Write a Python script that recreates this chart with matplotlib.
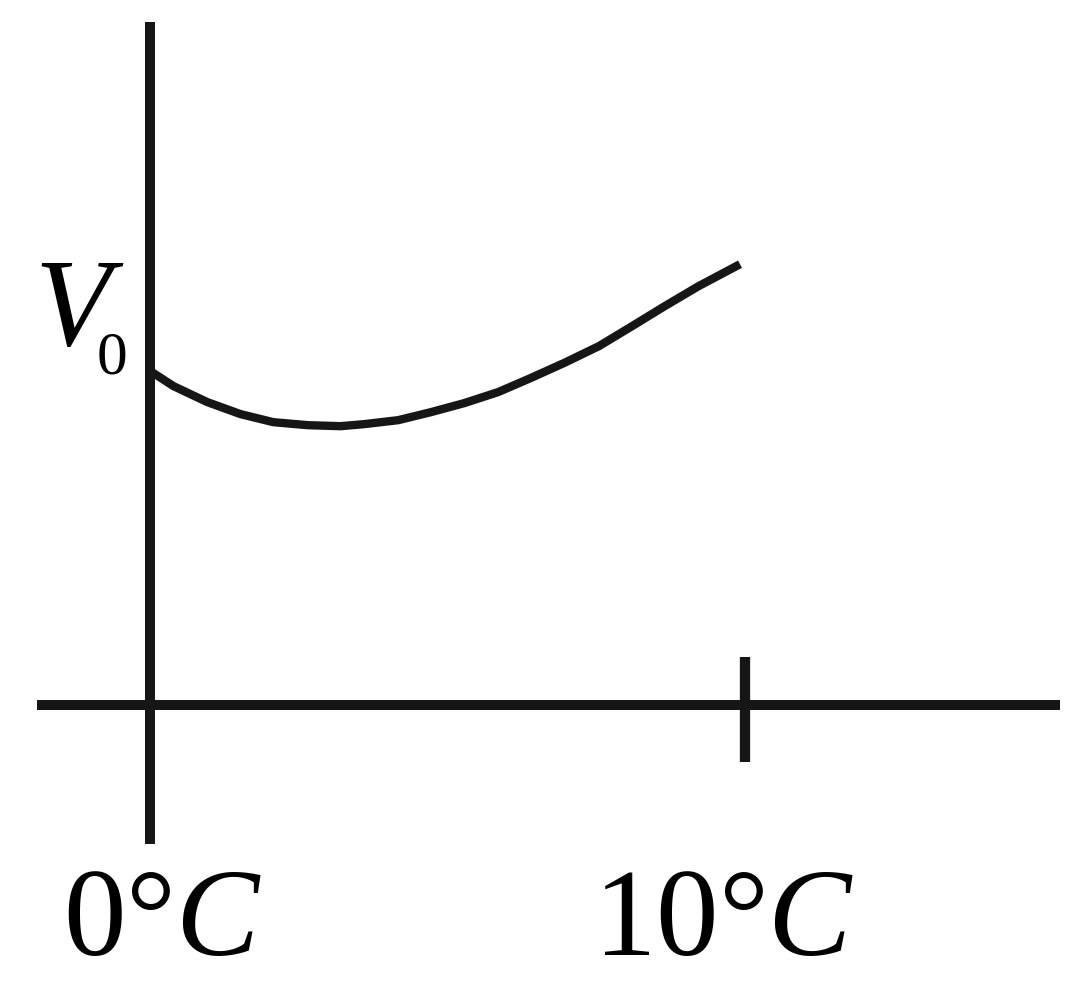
import matplotlib
matplotlib.use("Agg")
import matplotlib.pyplot as plt

plt.rcParams["mathtext.fontset"] = "custom"
plt.rcParams["mathtext.rm"] = "Liberation Serif"
plt.rcParams["mathtext.it"] = "Liberation Serif:italic"
plt.rcParams["mathtext.bf"] = "Liberation Serif:bold"

# water volume vs temperature (relative to V0 at 0 C)
temps = [0, 0.39, 0.96, 1.52, 2.07, 2.65, 3.20, 3.59, 4.17, 4.72, 5.28,
         5.85, 6.41, 6.97, 7.55, 8.09, 8.65, 9.22, 9.92]
volume = [1.000, 0.955, 0.907, 0.871, 0.847, 0.838, 0.835, 0.841, 0.853,
          0.877, 0.904, 0.937, 0.980, 1.025, 1.075, 1.133, 1.194, 1.254,
          1.320]
tick_temp = 10
x_labels = [r"$\mathrm{0°}C$", r"$\mathrm{10°}C$"]
y_label = r"$V_{{}_{\!\!\mathrm{0}}}$"

ink = "#161616"

fig = plt.figure(figsize=(10.84, 10.04), dpi=100)
ax = fig.add_axes([0, 0, 1, 1])
ax.set_xlim(-2.528, 15.706)
ax.set_ylim(-0.892, 2.114)
ax.axis("off")

# axes of the sketch
ax.plot([0, 0], [-0.416, 2.045], color=ink, lw=7.2, solid_capstyle="butt")
ax.plot([-1.90, 15.30], [0, 0], color=ink, lw=7.2, solid_capstyle="butt")
ax.plot([tick_temp, tick_temp], [-0.171, 0.144], color=ink, lw=7.4,
        solid_capstyle="butt")

# the curve
ax.plot(temps, volume, color=ink, lw=6.0, solid_capstyle="butt",
        solid_joinstyle="round")

# V_0 label
ax.text(-1.95, 1.078, y_label, fontsize=90, ha="left", va="baseline")

# temperature labels
for t, lab, dx in [(0, x_labels[0], -1.47), (tick_temp, x_labels[1], -2.55)]:
    ax.text(t + dx, -0.745, lab, fontsize=90, ha="left", va="baseline")

fig.savefig("out.png", dpi=100)
